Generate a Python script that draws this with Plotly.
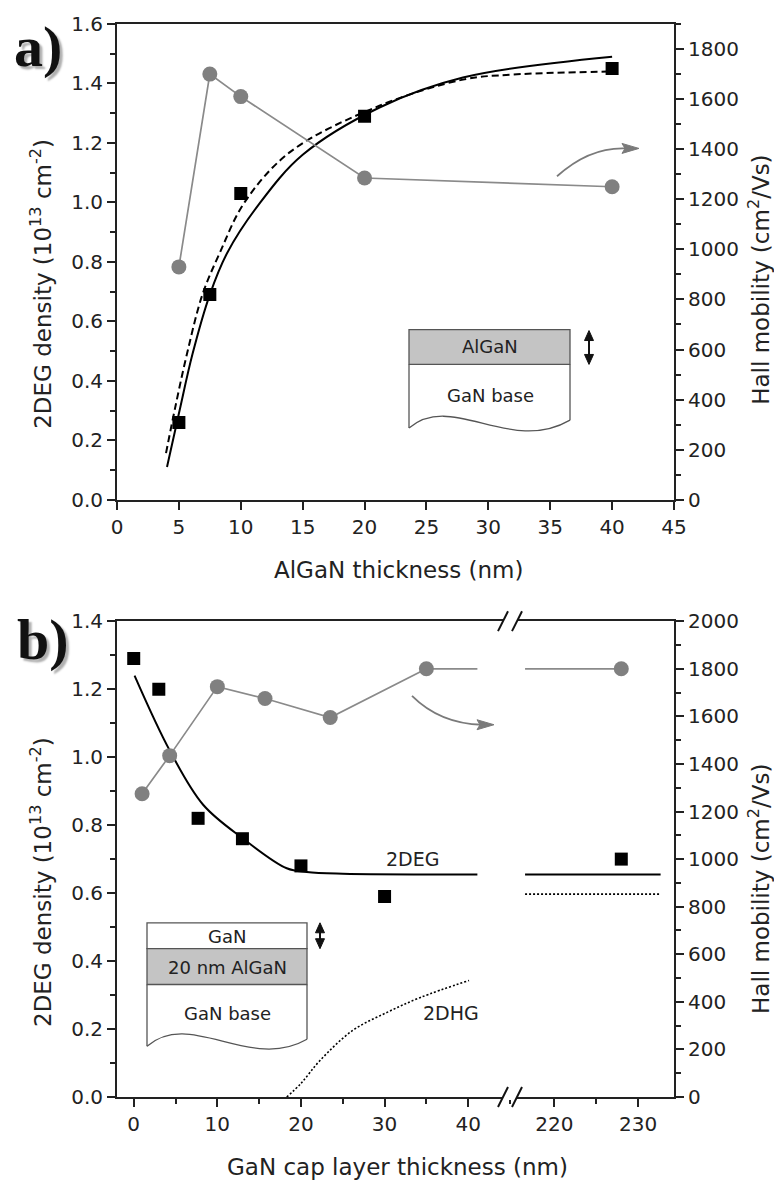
import plotly.graph_objects as go

# ---------------- Panel a data ----------------
a_thick = [5, 7.5, 10, 20, 40]
a_density = [0.26, 0.69, 1.03, 1.29, 1.45]
a_mobility = [930, 1700, 1610, 1285, 1250]
a_fit_solid_x = [4.04, 5.0, 6.1, 7.5, 8.9, 11.4, 15.0, 21.25, 27.95, 40.0]
a_fit_solid_y = [0.11, 0.29, 0.49, 0.69, 0.83, 0.99, 1.16, 1.32, 1.42, 1.49]
a_fit_dash_x = [3.96, 4.7, 5.65, 6.9, 8.3, 10.3, 14.0, 21.2, 27.95, 32.0, 39.6]
a_fit_dash_y = [0.157, 0.31, 0.49, 0.69, 0.83, 1.0, 1.17, 1.325, 1.413, 1.43, 1.44]

# ---------------- Panel b data ----------------
b_thick = [0, 3, 7.7, 13, 20, 30]
b_density = [1.29, 1.20, 0.82, 0.76, 0.68, 0.59]
b_thick_far = [228]
b_density_far = [0.70]
b_mob_thick = [1, 4.3, 10, 15.7, 23.5, 35]
b_mobility = [1275, 1435, 1725, 1675, 1595, 1800]
b_mob_thick_far = [228]
b_mobility_far = [1800]
b_mob_ext_left_x = [35, 41.1]
b_mob_ext_left_y = [1800, 1800]
b_mob_ext_right_x = [216.5, 228]
b_mob_ext_right_y = [1800, 1800]
b_2deg_x = [0.1, 4.3, 8.3, 13.1, 18.3, 20.7, 25, 41.1]
b_2deg_y = [1.24, 1.02, 0.86, 0.76, 0.673, 0.662, 0.657, 0.655]
b_2deg_far_x = [216.5, 232.7]
b_2deg_far_y = [0.655, 0.655]
b_2dhg_x = [18.3, 20, 22.3, 26.2, 30.3, 34.3, 40.1]
b_2dhg_y = [0, 0.04, 0.108, 0.196, 0.249, 0.293, 0.343]
b_2dhg_far_x = [216.5, 232.7]
b_2dhg_far_y = [0.597, 0.597]

# ---------------- geometry helpers (pixel -> paper) ----------------
W, H = 774, 1184
PL, PR, PT, PB = 117, 674, 19, 1097


def fx(px):
    return (px - PL) / (PR - PL)


def fy(py):
    return (PB - py) / (PB - PT)


def pt(p):
    return f"{fx(p[0]):.5f},{fy(p[1]):.5f}"


def poly(points, close=False):
    s = "M " + pt(points[0])
    for p in points[1:]:
        s += " L " + pt(p)
    if close:
        s += " Z"
    return s


A_TOP, A_BOT = 19, 497
B_TOP, B_BOT = 619, 1097
SPLIT = (510 - PL) / (PR - PL)

FONT = "DejaVu Sans"
AX = "#222222"
GRAY = "#808080"
LGRAY = "#8a8a8a"

fig = go.Figure()

# panel a
fig.add_trace(go.Scatter(x=a_fit_solid_x, y=a_fit_solid_y, xaxis="x", yaxis="y", mode="lines",
                         line=dict(color="black", width=2, shape="spline")))
fig.add_trace(go.Scatter(x=a_fit_dash_x, y=a_fit_dash_y, xaxis="x", yaxis="y", mode="lines",
                         line=dict(color="black", width=2, dash="7px,4px", shape="spline")))
fig.add_trace(go.Scatter(x=a_thick, y=a_mobility, xaxis="x", yaxis="y2", mode="lines+markers",
                         line=dict(color=LGRAY, width=1.7),
                         marker=dict(color=GRAY, size=15, symbol="circle")))
fig.add_trace(go.Scatter(x=a_thick, y=a_density, xaxis="x", yaxis="y", mode="markers",
                         marker=dict(color="black", size=13, symbol="square")))

# panel b
fig.add_trace(go.Scatter(x=b_2deg_x, y=b_2deg_y, xaxis="x3", yaxis="y3", mode="lines",
                         line=dict(color="black", width=2, shape="spline")))
fig.add_trace(go.Scatter(x=b_2deg_far_x, y=b_2deg_far_y, xaxis="x4", yaxis="y3", mode="lines",
                         line=dict(color="black", width=2)))
fig.add_trace(go.Scatter(x=b_2dhg_x, y=b_2dhg_y, xaxis="x3", yaxis="y3", mode="lines",
                         line=dict(color="black", width=1.6, dash="2px,2px", shape="spline")))
fig.add_trace(go.Scatter(x=b_2dhg_far_x, y=b_2dhg_far_y, xaxis="x4", yaxis="y3", mode="lines",
                         line=dict(color="black", width=1.6, dash="2px,2px")))
fig.add_trace(go.Scatter(x=b_mob_ext_left_x, y=b_mob_ext_left_y, xaxis="x3", yaxis="y4", mode="lines",
                         line=dict(color=LGRAY, width=1.7)))
fig.add_trace(go.Scatter(x=b_mob_ext_right_x, y=b_mob_ext_right_y, xaxis="x4", yaxis="y4", mode="lines",
                         line=dict(color=LGRAY, width=1.7)))
fig.add_trace(go.Scatter(x=b_mob_thick, y=b_mobility, xaxis="x3", yaxis="y4", mode="lines+markers",
                         line=dict(color=LGRAY, width=1.7),
                         marker=dict(color=GRAY, size=15, symbol="circle")))
fig.add_trace(go.Scatter(x=b_mob_thick_far, y=b_mobility_far, xaxis="x4", yaxis="y4", mode="markers",
                         marker=dict(color=GRAY, size=15, symbol="circle")))
fig.add_trace(go.Scatter(x=b_thick, y=b_density, xaxis="x3", yaxis="y3", mode="markers",
                         marker=dict(color="black", size=13, symbol="square")))
fig.add_trace(go.Scatter(x=b_thick_far, y=b_density_far, xaxis="x4", yaxis="y3", mode="markers",
                         marker=dict(color="black", size=13, symbol="square")))

common = dict(showgrid=False, zeroline=False, showline=True, linecolor=AX, linewidth=2,
              ticks="outside", ticklen=8, tickwidth=2, tickcolor=AX,
              tickfont=dict(family=FONT, size=20, color=AX))
minor = lambda d: dict(dtick=d, ticks="outside", ticklen=5, tickwidth=1.5, tickcolor=AX)

ya_dom = [fy(A_BOT), fy(A_TOP)]
yb_dom = [fy(B_BOT), fy(B_TOP)]

fig.update_layout(
    width=W, height=H, showlegend=False,
    margin=dict(l=PL, r=W - PR, t=PT, b=H - PB, pad=0),
    paper_bgcolor="white", plot_bgcolor="white",
    font=dict(family=FONT, size=20, color=AX),
    xaxis=dict(domain=[0, 1], anchor="y", range=[0, 45], tick0=0, dtick=5, mirror=True, **common),
    yaxis=dict(domain=ya_dom, anchor="x", range=[0, 1.6], tick0=0, dtick=0.2, tickformat=".1f",
               minor=minor(0.1), **common),
    yaxis2=dict(overlaying="y", side="right", anchor="x", range=[0, 1900], tick0=0, dtick=200,
                minor=minor(100), **common),
    xaxis3=dict(domain=[0, SPLIT], anchor="y3", range=[-2, 45.0], tick0=0, dtick=10, mirror=True,
                minor=minor(5), **common),
    xaxis4=dict(domain=[SPLIT, 1], anchor="y3", range=[214.7, 234.3], tickvals=[220, 230], mirror=True,
                minor=dict(tickvals=[225], ticks="outside", ticklen=5, tickwidth=1.5, tickcolor=AX), **common),
    yaxis3=dict(domain=yb_dom, anchor="x3", range=[0, 1.4], tick0=0, dtick=0.2, tickformat=".1f",
                minor=minor(0.1), **common),
    yaxis4=dict(overlaying="y3", side="right", anchor="x4", range=[0, 2000], tick0=0, dtick=200,
                minor=minor(100), **common),
)

ann = []


def text(px, py, s, size=20, angle=0, color=AX, family=FONT, shadow=None):
    f = dict(family=family, size=size, color=color)
    if shadow:
        f["shadow"] = shadow
    ann.append(dict(x=fx(px), y=fy(py), xref="paper", yref="paper", text=s, showarrow=False,
                    xanchor="center", yanchor="middle", textangle=angle, font=f))


# panel labels with soft shadow
for (cx, cy, lab) in [(38, 42, "a)"), (43, 637, "b)")]:
    text(cx, cy, f"<b>{lab}</b>", size=58, color="#111111", family="Liberation Serif",
         shadow="3px 3px 2px #b0b0b0")

# axis titles
text(398, 568, "AlGaN thickness (nm)", size=23)
text(397, 1167, "GaN cap layer thickness (nm)", size=23)
text(41, 280, "2DEG density (10<sup>13</sup> cm<sup>-2</sup>)", size=23, angle=-90)
text(41, 881, "2DEG density (10<sup>13</sup> cm<sup>-2</sup>)", size=23, angle=-90)
text(759, 276, "Hall mobility (cm<sup>2</sup>/Vs)", size=23, angle=-90)
text(759, 888, "Hall mobility (cm<sup>2</sup>/Vs)", size=23, angle=-90)

# in-plot labels
text(412, 858, "2DEG", size=19)
text(451, 1013, "2DHG", size=19)

# inset texts
text(490, 343, "AlGaN", size=18)
text(490, 392, "GaN base", size=18)
text(227, 936, "GaN", size=18)
text(227, 967, "20 nm AlGaN", size=18)
text(227, 1013, "GaN base", size=18)

fig.update_layout(annotations=ann)

shapes = []
EDGE = "#555555"


def rect(x0, y0, x1, y1, fill, line=EDGE, width=1.3, layer="below"):
    shapes.append(dict(type="rect", xref="paper", yref="paper", x0=fx(x0), x1=fx(x1), y0=fy(y0), y1=fy(y1),
                       fillcolor=fill, line=dict(color=line, width=width), layer=layer))


def pshape(p, color=EDGE, width=1.3, fill=None, layer="below"):
    d = dict(type="path", xref="paper", yref="paper", path=p, line=dict(color=color, width=width), layer=layer)
    if fill:
        d["fillcolor"] = fill
    shapes.append(d)


def cubic(p0, c1, c2, p1):
    return f"M {pt(p0)} C {pt(c1)} {pt(c2)} {pt(p1)}"


def quad(p0, c, p1):
    return f"M {pt(p0)} Q {pt(c)} {pt(p1)}"


def double_arrow(x, y0, y1):
    pshape(poly([(x, y0 + 6), (x, y1 - 6)]), color="#111", width=2)
    pshape(poly([(x, y0 - 1), (x - 4.5, y0 + 9), (x + 4.5, y0 + 9)], close=True),
           color="#111", width=1, fill="#111")
    pshape(poly([(x, y1 + 1), (x - 4.5, y1 - 9), (x + 4.5, y1 - 9)], close=True),
           color="#111", width=1, fill="#111")


# inset a
pshape(poly([(409, 361), (409, 425)]))
pshape(poly([(570, 361), (570, 417)]))
pshape(cubic((409, 425), (452, 388), (510, 452), (570, 417)))
rect(409, 326, 570, 361, "#c4c4c4")
double_arrow(589, 328, 360)

# inset b
pshape(poly([(147, 984), (147, 1046)]))
pshape(poly([(307, 984), (307, 1039)]))
pshape(cubic((147, 1046), (190, 1008), (250, 1072), (307, 1039)))
rect(147, 922, 307, 948, "white")
rect(147, 948, 307, 984, "#c4c4c4")
double_arrow(320, 923, 947)

# curved gray arrows
ARW = "#7a7a7a"
pshape(quad((557, 172), (590, 142), (627, 144)), color=ARW, width=1.8)
pshape(poly([(639, 144), (622, 139), (625, 144), (622, 149)], close=True), color=ARW, width=1, fill=ARW)
pshape(quad((412, 694), (440, 722), (482, 723)), color=ARW, width=1.8)
pshape(poly([(494, 723), (477, 718), (480, 723), (477, 728)], close=True), color=ARW, width=1, fill=ARW)

# axis breaks in panel b
for yy in (B_TOP, B_BOT):
    rect(503, yy - 3, 517, yy + 3, "white", line="white", width=0, layer="above")
    pshape(poly([(498, yy + 10), (508, yy - 10)]), color="#111", width=2, layer="above")
    pshape(poly([(512, yy + 10), (522, yy - 10)]), color="#111", width=2, layer="above")

fig.update_layout(shapes=shapes)

fig.write_html("out.html", config={"displayModeBar": False},
               post_script="document.body.style.margin='0px';document.body.style.padding='0px';")
